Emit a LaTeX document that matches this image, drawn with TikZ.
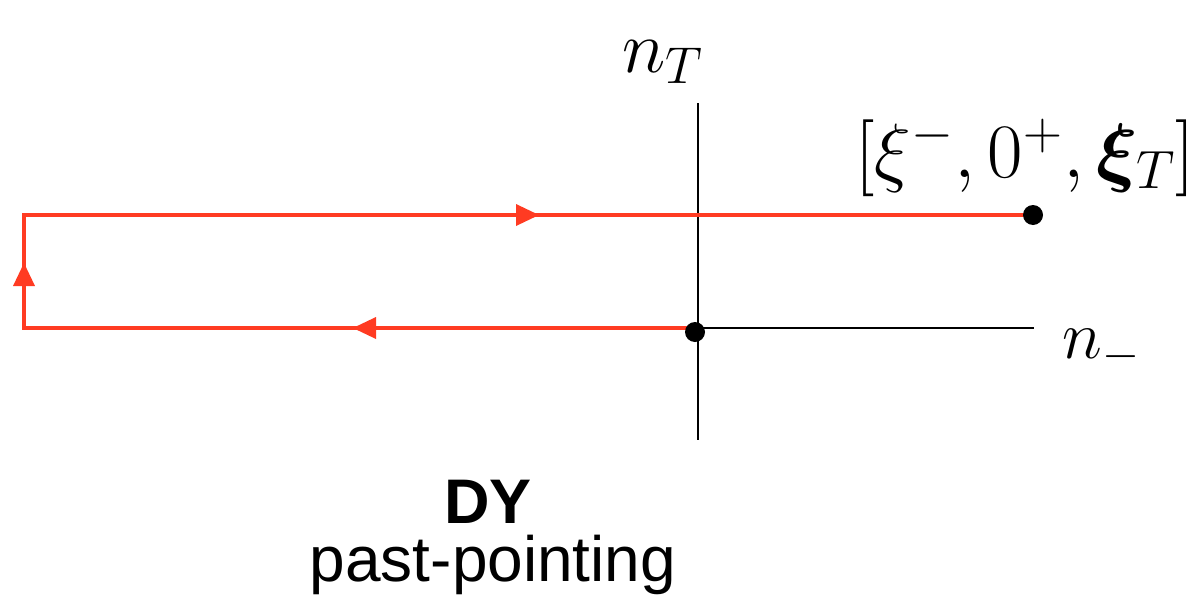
\RequirePackage{fix-cm}
\documentclass[tikz,border=0pt]{standalone}
\usepackage{fontspec}
\usepackage{amsmath,bm}
\newfontfamily\helv{Liberation Sans}
\definecolor{pathred}{RGB}{255,59,34}
\tikzset{
  axis/.style={line width=0.75pt, black},
  redpath/.style={line width=2.3pt, pathred, line join=miter},
  tip/.style={fill=pathred},
  dot/.style={circle, fill=black, inner sep=0pt, minimum size=10pt},
  lbl/.style={inner sep=0pt, anchor=base west},
}
\begin{document}
\begin{tikzpicture}[x=0.5pt,y=-0.5pt]
\useasboundingbox (0,0) rectangle (1196,595);
% coordinates
\coordinate (O) at (698,328);
\coordinate (top) at (698,103);
\coordinate (bot) at (698,440);
\coordinate (right) at (1034,328);
\coordinate (A) at (24,328);
\coordinate (B) at (24,215);
\coordinate (P) at (1033,215);
% axes
\draw[axis] (top) -- (bot);
\draw[axis] (O) -- (right);
% red path
\draw[redpath] (O) -- (A) -- (B) -- (P);
% arrow tips
\fill[tip] (516,204) -- (539,215) -- (516,226) -- cycle;
\fill[tip] (376,317) -- (353,328) -- (376,339) -- cycle;
\fill[tip] (13,286) -- (24,263) -- (35,286) -- cycle;
% dots
\node[dot] (d1) at (1033,215) {};
\node[dot] (d0) at (695,332) {};
% labels
\node[lbl] (nT) at (622,72) {\fontsize{37}{44}\selectfont$n_T$};
\node[lbl] (nm) at (1062,358) {\fontsize{34}{40}\selectfont$n_-$};
\node[lbl] (pt) at (855,177) {\fontsize{38.5}{46}\selectfont$[\xi^-,0^+,\bm{\xi}_T]$};
\node[inner sep=0pt, anchor=base, text depth=0pt] (dy) at (488,523) {\fontsize{31.5}{38}\selectfont\helv\bfseries DY};
\node[inner sep=0pt, anchor=base, text height=22pt] (pp) at (493,581) {\fontsize{32}{38}\selectfont\helv past-pointing};
\end{tikzpicture}
\end{document}
